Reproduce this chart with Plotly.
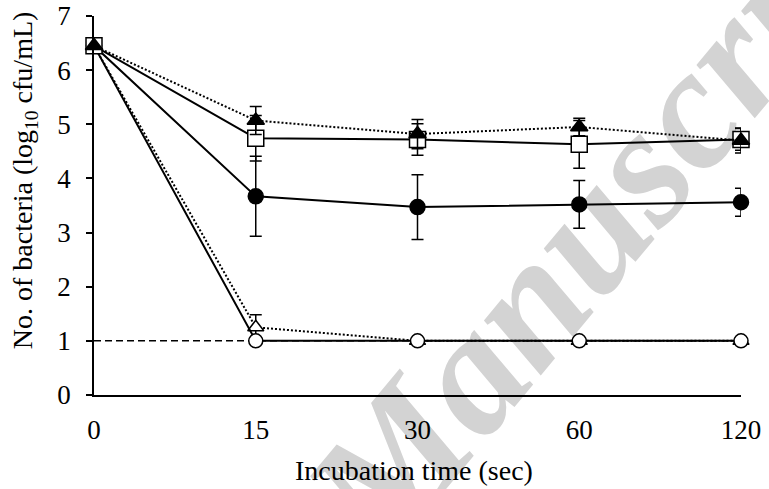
import plotly.graph_objects as go

# ---- data ----
time_labels = ["0", "15", "30", "60", "120"]
x_pos = [0, 1, 2, 3, 4]

filled_tri = [6.45, 5.07, 4.82, 4.95, 4.70]
filled_tri_err = [0, 0.26, 0.27, 0.16, 0.23]

open_sq = [6.45, 4.74, 4.72, 4.63, 4.72]
open_sq_err = [0, 0.42, 0.29, 0.44, 0.20]

filled_circ = [6.45, 3.67, 3.47, 3.52, 3.56]
filled_circ_err = [0, 0.74, 0.60, 0.44, 0.26]

open_tri = [6.45, 1.25, 1.00, 1.00, 1.00]
open_tri_err = [0, 0.23, 0, 0, 0]

open_circ = [6.45, 1.00, 1.00, 1.00, 1.00]
open_circ_err = [0, 0, 0, 0, 0]

detection_limit = 1.0
y_ticks = [0, 1, 2, 3, 4, 5, 6, 7]

FONT = "Liberation Serif"

fig = go.Figure()

# detection limit line
fig.add_trace(go.Scatter(x=x_pos, y=[detection_limit] * len(x_pos), mode="lines",
                         line=dict(color="black", width=1.5, dash="7px,4px"),
                         hoverinfo="skip", showlegend=False, cliponaxis=False))

def series(y, err, symbol, fill, dash, size):
    return go.Scatter(
        x=x_pos, y=y, mode="lines+markers", cliponaxis=False, showlegend=False,
        line=dict(color="black", width=2, dash=dash),
        marker=dict(symbol=symbol, size=size, color=fill,
                    line=dict(color="black", width=1.5)),
        error_y=dict(type="data", array=err, visible=True, color="black",
                     thickness=1.5, width=6),
    )

fig.add_trace(series(open_tri, open_tri_err, "triangle-up", "white", "2px,2px", 14))
fig.add_trace(series(open_circ, open_circ_err, "circle", "white", "solid", 14))
fig.add_trace(series(filled_circ, filled_circ_err, "circle", "black", "solid", 15))
fig.add_trace(series(open_sq, open_sq_err, "square", "white", "solid", 16))
fig.add_trace(series(filled_tri, filled_tri_err, "triangle-up", "black", "2px,2px", 15))

# watermark (behind data)
fig.add_shape(type="line", xref="paper", yref="paper",
              x0=0.329, y0=-0.372, x1=0.527, y1=0.034,
              line=dict(width=0, color="rgba(0,0,0,0)"), layer="below",
              label=dict(text="<b><i>Accepted Manuscript</i></b>",
                         font=dict(family=FONT, size=172, color="#d3d3d3"),
                         textposition="middle", xanchor="center", yanchor="middle"))

fig.add_annotation(text="Incubation time (sec)", xref="paper", yref="paper",
                   x=0.495, y=-0.198, xanchor="center", yanchor="middle",
                   showarrow=False, font=dict(family=FONT, size=28, color="black"))
fig.add_annotation(text="No. of bacteria (log<sub>10</sub> cfu/mL)", xref="paper", yref="paper",
                   x=-0.108, y=0.567, xanchor="center", yanchor="middle", textangle=-90,
                   showarrow=False, font=dict(family=FONT, size=28, color="black"))

fig.update_xaxes(range=[0, 4], tickvals=x_pos, ticktext=time_labels, automargin=False,
                 showgrid=False, zeroline=False, showline=True, linecolor="black",
                 linewidth=1.5, ticks="outside", ticklen=10, tickcolor="rgba(0,0,0,0)",
                 tickfont=dict(family=FONT, size=27, color="black"))
fig.update_yaxes(range=[0, 7], tickvals=y_ticks, showgrid=False, zeroline=False,
                 automargin=False, ticklabelstandoff=10,
                 showline=True, linecolor="black", linewidth=1.5, ticks="outside",
                 ticklen=6, tickwidth=1.5, tickcolor="black",
                 tickfont=dict(family=FONT, size=27, color="black"))

fig.update_layout(width=769, height=489, margin=dict(l=94, r=28, t=16, b=94),
                  plot_bgcolor="white", paper_bgcolor="white",
                  font=dict(family=FONT, color="black"))

fig.write_html("out.html", config={"displayModeBar": False},
               post_script="document.body.style.margin='0';document.body.style.overflow='hidden';")
